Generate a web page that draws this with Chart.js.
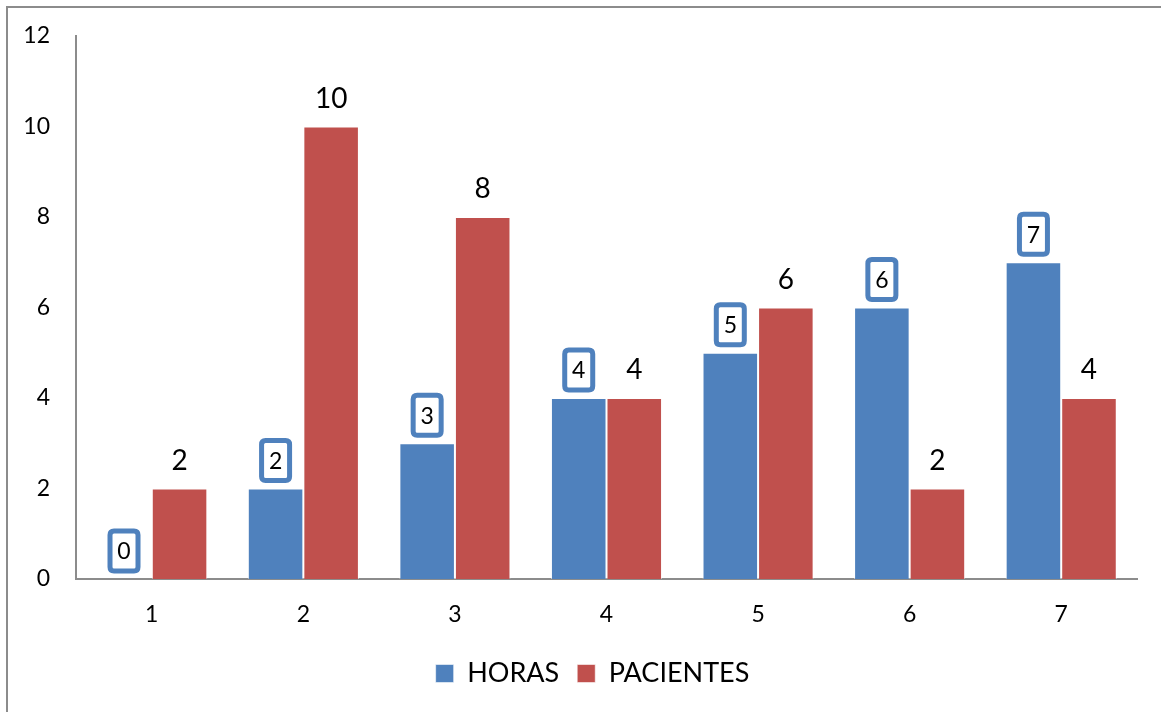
<!DOCTYPE html>
<html>
<head>
<meta charset="utf-8">
<script src="https://cdn.jsdelivr.net/npm/chart.js@4/dist/chart.umd.min.js"></script>
<style>
  html, body { margin: 0; padding: 0; background: #ffffff; }
  #wrap { width: 1161px; height: 712px; position: relative; }
</style>
</head>
<body>
<div id="wrap"><canvas id="c" width="1161" height="712"></canvas></div>
<script>
// Categories and series
const categories = ['1', '2', '3', '4', '5', '6', '7'];
const horas = [0, 2, 3, 4, 5, 6, 7];
const pacientes = [2, 10, 8, 4, 6, 2, 4];
const yTickValues = [0, 2, 4, 6, 8, 10, 12];

const BLUE = '#4F81BD';
const RED = '#C0504D';
const FONT = 'Lato, "Open Sans", sans-serif';

// Outer frame of the chart object
const framePlugin = {
  id: 'frame',
  beforeDraw(chart) {
    const ctx = chart.ctx;
    ctx.save();
    ctx.fillStyle = '#ffffff';
    ctx.fillRect(0, 0, chart.width, chart.height);
    ctx.strokeStyle = '#8c8c8c';
    ctx.lineWidth = 2;
    ctx.strokeRect(7, 7, chart.width + 20, chart.height + 20);
    ctx.restore();
  }
};

// Nudge the legend so it sits slightly right of the canvas centre
const legendShift = {
  id: 'legendShift',
  afterLayout(chart) {
    if (chart.legend) {
      chart.legend.left += 24;
      chart.legend.right += 24;
    }
  }
};

function roundRect(ctx, x, y, w, h, r) {
  ctx.beginPath();
  ctx.moveTo(x + r, y);
  ctx.lineTo(x + w - r, y);
  ctx.quadraticCurveTo(x + w, y, x + w, y + r);
  ctx.lineTo(x + w, y + h - r);
  ctx.quadraticCurveTo(x + w, y + h, x + w - r, y + h);
  ctx.lineTo(x + r, y + h);
  ctx.quadraticCurveTo(x, y + h, x, y + h - r);
  ctx.lineTo(x, y + r);
  ctx.quadraticCurveTo(x, y, x + r, y);
  ctx.closePath();
}

// Value labels: boxed for HORAS, plain for PACIENTES
const valueLabels = {
  id: 'valueLabels',
  afterDatasetsDraw(chart) {
    const ctx = chart.ctx;
    ctx.save();
    ctx.textAlign = 'center';
    ctx.textBaseline = 'middle';
    chart.data.datasets.forEach((ds, di) => {
      const meta = chart.getDatasetMeta(di);
      meta.data.forEach((bar, i) => {
        const v = ds.data[i];
        const cx = bar.x;
        const cy = bar.y - 28;
        if (di === 0) {
          const w = 28, h = 40;
          roundRect(ctx, cx - w / 2, cy - h / 2, w, h, 4);
          ctx.fillStyle = '#ffffff';
          ctx.fill();
          ctx.lineWidth = 5;
          ctx.strokeStyle = BLUE;
          ctx.stroke();
          ctx.fillStyle = '#000000';
          ctx.font = '23px ' + FONT;
          ctx.fillText(String(v), cx, cy + 1);
        } else {
          ctx.fillStyle = '#000000';
          ctx.font = '28px ' + FONT;
          ctx.fillText(String(v), cx, cy);
        }
      });
    });
    ctx.restore();
  }
};

new Chart(document.getElementById('c'), {
  type: 'bar',
  data: {
    labels: categories,
    datasets: [
      {
        label: 'HORAS',
        data: horas,
        backgroundColor: BLUE,
        borderColor: 'rgba(255,255,255,0.55)',
        borderWidth: 1,
        categoryPercentage: 0.733,
        barPercentage: 1.0
      },
      {
        label: 'PACIENTES',
        data: pacientes,
        backgroundColor: RED,
        borderColor: 'rgba(255,255,255,0.55)',
        borderWidth: 1,
        categoryPercentage: 0.733,
        barPercentage: 1.0
      }
    ]
  },
  options: {
    responsive: false,
    animation: false,
    devicePixelRatio: 1,
    layout: { padding: { top: 36, right: 24, left: 0, bottom: 15 } },
    plugins: {
      legend: {
        position: 'bottom',
        labels: {
          boxWidth: 18,
          boxHeight: 18,
          padding: 18,
          color: '#000000',
          font: { family: FONT, size: 27 }
        }
      },
      tooltip: { enabled: false }
    },
    scales: {
      x: {
        grid: { display: false, drawTicks: false },
        border: { display: true, color: '#8c8c8c', width: 2 },
        ticks: { color: '#000000', padding: 22, font: { family: FONT, size: 23 } },
        afterFit(scale) { scale.height = 63; scale.paddingLeft = 0; scale.paddingRight = 0; }
      },
      y: {
        min: 0,
        max: 12,
        afterBuildTicks(scale) { scale.ticks = yTickValues.map(v => ({ value: v })); },
        grid: { display: false, drawTicks: false },
        border: { display: true, color: '#8c8c8c', width: 2 },
        ticks: { color: '#000000', padding: 26, font: { family: FONT, size: 23 } },
        afterFit(scale) { scale.width = 76; scale.paddingTop = 0; scale.paddingBottom = 0; }
      }
    }
  },
  plugins: [framePlugin, legendShift, valueLabels]
});
</script>
</body>
</html>
